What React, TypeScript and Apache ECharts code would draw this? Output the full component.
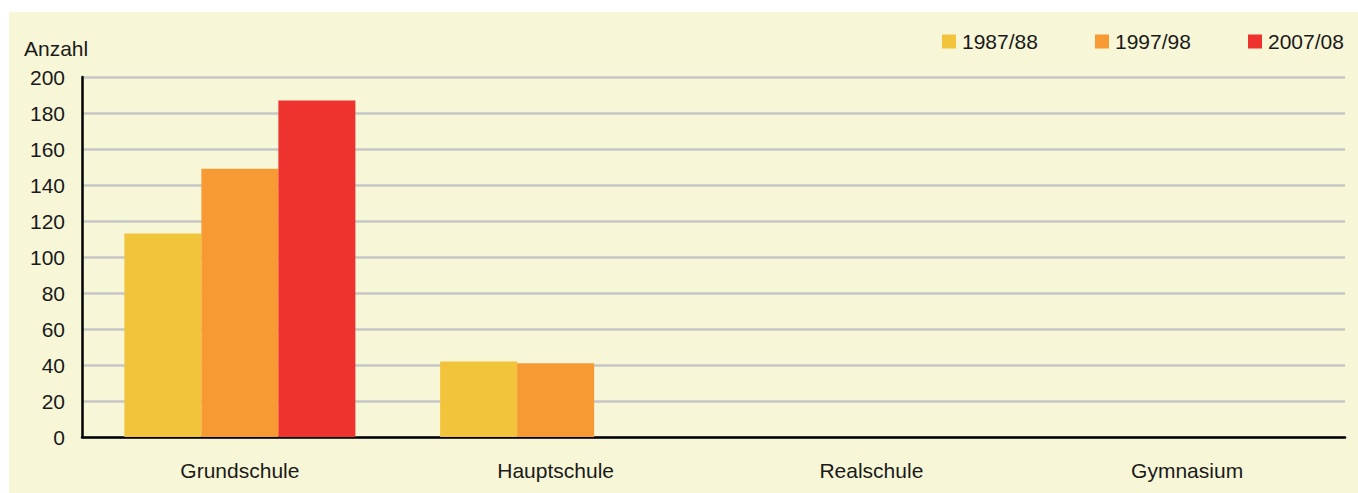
import React, { useEffect, useRef } from "react";
import * as echarts from "echarts";

const categories = ["Grundschule", "Hauptschule", "Realschule", "Gymnasium"];
const seriesNames = ["1987/88", "1997/98", "2007/08"];
const values1987 = [113, 42, 0, 0];
const values1997 = [149, 41, 0, 0];
const values2007 = [187, 0, 0, 0];
const colors = ["#f1c43b", "#f79a33", "#ee322e"];
const yAxisName = "Anzahl";

export default function App() {
  const ref = useRef<HTMLDivElement>(null);
  useEffect(() => {
    if (!ref.current) return;
    const chart = echarts.init(ref.current, null, { renderer: "svg" });
    const font = "'Liberation Sans', Arial, Helvetica, sans-serif";
    const allValues = [values1987, values1997, values2007];
    const legendLefts = [942, 1095, 1248];
    chart.setOption({
      animation: false,
      backgroundColor: "#ffffff",
      graphic: [
        {
          type: "rect",
          z: -10,
          silent: true,
          shape: { x: 9, y: 12, width: 1358 - 9, height: 493 - 12 },
          style: { fill: "#f7f6d7" },
        },
        {
          type: "text",
          left: 24,
          top: 38,
          style: { text: yAxisName, font: `21px ${font}`, fill: "#1a1a1a" },
        },
      ],
      legend: seriesNames.map((n, i) => ({
        data: [n],
        left: legendLefts[i],
        top: 31,
        padding: 0,
        itemWidth: 14,
        itemHeight: 14,
        itemGap: 0,
        icon: "rect",
        textStyle: { fontSize: 21, fontFamily: font, color: "#1a1a1a", padding: [0, 0, 0, 1] },
      })),
      grid: { left: 82, right: 13, top: 77, bottom: 56, containLabel: false },
      xAxis: {
        type: "category",
        data: categories,
        axisLine: { show: true, lineStyle: { color: "#000", width: 2.5 } },
        axisTick: { show: false },
        axisLabel: { fontSize: 21, fontFamily: font, color: "#1a1a1a", margin: 23 },
      },
      yAxis: {
        type: "value",
        min: 0,
        max: 200,
        interval: 20,
        axisLine: { show: true, lineStyle: { color: "#000", width: 2.5 } },
        axisTick: { show: false },
        axisLabel: { fontSize: 21, fontFamily: font, color: "#1a1a1a", margin: 17 },
        splitLine: { show: true, lineStyle: { color: "#c6c6c6", width: 2.5 } },
      },
      series: seriesNames.map((n, i) => ({
        name: n,
        type: "bar",
        data: allValues[i],
        barWidth: 77,
        barGap: "0%",
        itemStyle: { color: colors[i] },
      })),
    });
    return () => chart.dispose();
  }, []);
  return (
    <div
      ref={ref}
      style={{ position: "fixed", left: 0, top: 0, width: 1358, height: 493 }}
    />
  );
}
